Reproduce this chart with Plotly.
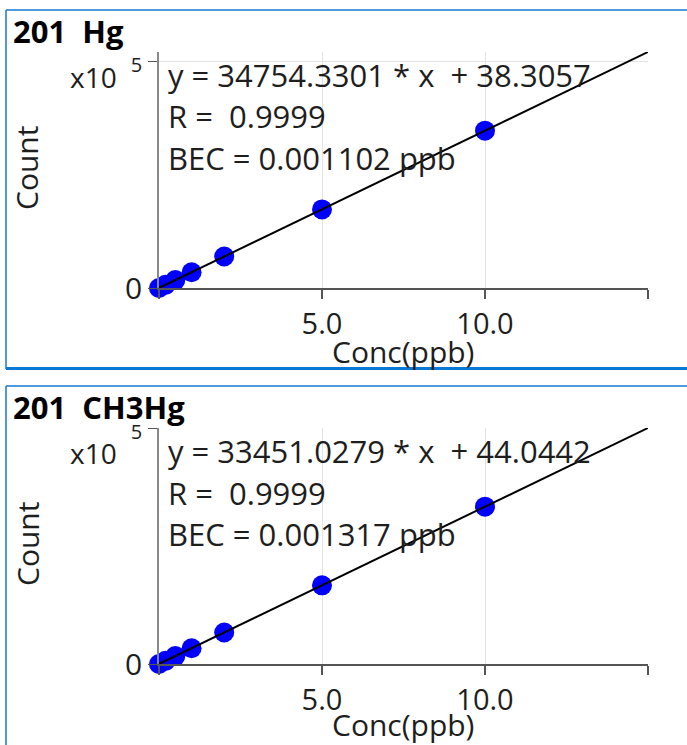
import plotly.graph_objects as go

# ---- data ----
conc = [0, 0.2, 0.5, 1, 2, 5, 10]
hg_counts = [38, 7000, 17400, 34700, 69600, 173600, 347600]
mehg_counts = [44, 6750, 16800, 33500, 66900, 167300, 334500]

panels = [
    {"title": "201  Hg", "counts": hg_counts, "slope": 34754.3301, "icpt": 38.3057,
     "r": "0.9999", "bec": "0.001102"},
    {"title": "201  CH3Hg", "counts": mehg_counts, "slope": 33451.0279, "icpt": 44.0442,
     "r": "0.9999", "bec": "0.001317"},
]
x_tickvals = [0, 5, 10, 15]
x_ticktext = ["", "5.0", "10.0", ""]
x_max = 15
x_title = "Conc(ppb)"
y_title = "Count"

W, H = 687, 745
FONT = "Open Sans"
BLUE_FRAME = "#1479d4"
TXT = "#1e1e1e"


def px(x):
    return x / W


def py(y):
    return 1 - y / H


fig = go.Figure()
annotations = []
shapes = []
offsets = [0, 376]
xtitle_y = [351, 724]
for i, (p, off) in enumerate(zip(panels, offsets)):
    n = "" if i == 0 else str(i + 1)
    xa, ya = "x" + n, "y" + n
    fit_x = [0, x_max]
    fit_y = [p["slope"] * v + p["icpt"] for v in fit_x]
    ymax = fit_y[1]
    fig.add_trace(go.Scatter(x=conc, y=p["counts"], mode="markers",
                             marker=dict(color="#0000ff", size=20, line=dict(width=0)),
                             xaxis=xa, yaxis=ya, showlegend=False, cliponaxis=False))
    fig.add_trace(go.Scatter(x=fit_x, y=fit_y, mode="lines",
                             line=dict(color="black", width=2),
                             xaxis=xa, yaxis=ya, showlegend=False, cliponaxis=False))
    top, bot = 52 + off, 288 + off
    xkey = "xaxis" + n
    ykey = "yaxis" + n
    fig.layout[xkey] = dict(
        domain=[px(159), px(648)], range=[0, x_max], anchor=ya, automargin=False,
        tickvals=x_tickvals, ticktext=x_ticktext,
        ticks="outside", ticklen=9, tickwidth=2, tickcolor="#555555",
        showline=True, linecolor="#555555", linewidth=2,
        showgrid=True, gridcolor="#e3e3e3", gridwidth=1, zeroline=False,
        tickfont=dict(family=FONT, size=29, color=TXT),
        fixedrange=True,
    )
    fig.layout[ykey] = dict(
        domain=[py(bot), py(top)], range=[0, ymax], anchor=xa, automargin=False,
        tickvals=[0, 500000],
        ticktext=["0", "<span style='font-size:20px'>5</span>"],
        ticks="outside", ticklen=9, tickwidth=1, tickcolor="#555555",
        showline=True, linecolor="#888888", linewidth=1.5,
        showgrid=True, gridcolor="#e3e3e3", gridwidth=1, zeroline=False,
        tickfont=dict(family=FONT, size=30, color=TXT),
        fixedrange=True,
    )
    # axis titles
    annotations.append(dict(text=x_title, x=px(403), y=py(xtitle_y[i]),
                            xref="paper", yref="paper", xanchor="center", yanchor="middle",
                            showarrow=False, font=dict(family=FONT, size=30, color=TXT)))
    annotations.append(dict(text=y_title, x=px(27), y=py(168 + off), textangle=-90,
                            xref="paper", yref="paper", xanchor="center", yanchor="middle",
                            showarrow=False, font=dict(family=FONT, size=30, color=TXT)))
    # panel title
    annotations.append(dict(text="<b>" + p["title"] + "</b>", x=px(11), y=py(31 + off),
                            xref="paper", yref="paper", xanchor="left", yanchor="middle",
                            showarrow=False, font=dict(family=FONT, size=31, color="black")))
    # exponent prefix
    annotations.append(dict(text="x10", x=px(119), y=py(77 + off),
                            xref="paper", yref="paper", xanchor="right", yanchor="middle",
                            showarrow=False, font=dict(family=FONT, size=28, color=TXT)))
    # fit text
    lines = [
        "y = %.4f * x  + %.4f" % (p["slope"], p["icpt"]),
        "R =  " + p["r"],
        "BEC = " + p["bec"] + " ppb",
    ]
    for j, t in enumerate(lines):
        annotations.append(dict(text=t, x=px(166), y=py(75 + 41.5 * j + off),
                                xref="paper", yref="paper", xanchor="left", yanchor="middle",
                                showarrow=False, font=dict(family=FONT, size=31, color=TXT)))

# panel frames
shapes.append(dict(type="line", xref="paper", yref="paper", x0=px(6), x1=1.01, y0=py(10), y1=py(10),
                   line=dict(color=BLUE_FRAME, width=1.5)))
shapes.append(dict(type="line", xref="paper", yref="paper", x0=px(6), x1=px(6), y0=py(10), y1=py(369),
                   line=dict(color=BLUE_FRAME, width=1.5)))
shapes.append(dict(type="line", xref="paper", yref="paper", x0=px(6), x1=1.01, y0=py(368.5), y1=py(368.5),
                   line=dict(color="#0a78d7", width=3)))
shapes.append(dict(type="line", xref="paper", yref="paper", x0=px(6), x1=1.01, y0=py(386), y1=py(386),
                   line=dict(color=BLUE_FRAME, width=1.5)))
shapes.append(dict(type="line", xref="paper", yref="paper", x0=px(6), x1=px(6), y0=py(386), y1=-0.01,
                   line=dict(color=BLUE_FRAME, width=1.5)))

fig.update_layout(
    width=W, height=H, margin=dict(l=0, r=0, t=0, b=0, pad=0, autoexpand=False),
    paper_bgcolor="white", plot_bgcolor="white",
    annotations=annotations, shapes=shapes, showlegend=False,
    font=dict(family=FONT),
)
fig.write_html("out.html", config={"displayModeBar": False},
               post_script="document.body.style.margin='0';")
